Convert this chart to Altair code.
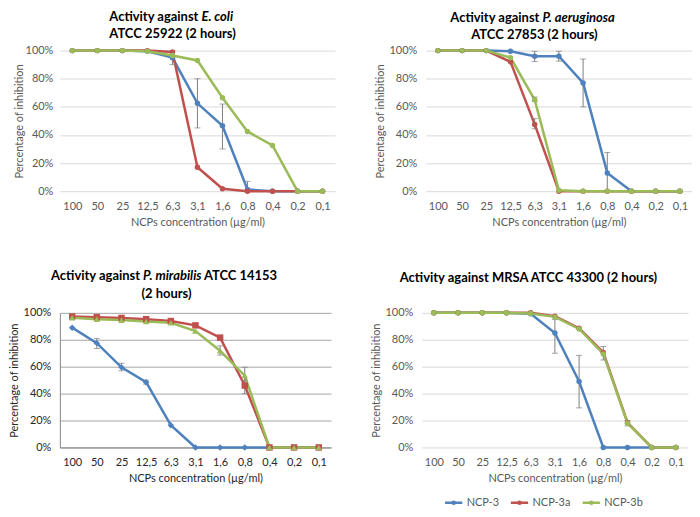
import altair as alt
import pandas as pd

# ---------------- data ----------------
CONC = ["100", "50", "25", "12,5", "6,3", "3,1", "1,6", "0,8", "0,4", "0,2", "0,1"]
SERIES = ["NCP-3", "NCP-3a", "NCP-3b"]
COLORS = ["#4F81BD", "#C0504D", "#9BBB59"]
Y_TICKS = [0, 20, 40, 60, 80, 100]
X_TITLE = "NCPs concentration (µg/ml)"
Y_TITLE = "Percentage of inhibition"

ECOLI_NCP3 = [100, 100, 100, 99.5, 95, 62.5, 46.5, 1.2, 0, 0, 0]
ECOLI_NCP3A = [100, 100, 100, 100, 99, 17, 1.7, 0, 0, 0, 0]
ECOLI_NCP3B = [100, 100, 100, 99.5, 96.5, 93, 66.5, 42.5, 32.5, 0, 0]
ECOLI_ERR = [("6,3", "NCP-3", 90, 100), ("3,1", "NCP-3", 45, 80),
             ("1,6", "NCP-3", 30, 62), ("0,8", "NCP-3", 0, 7)]

PAER_NCP3 = [100, 100, 100, 99.5, 96, 96, 77, 13, 0, 0, 0]
PAER_NCP3A = [100, 100, 100, 92, 47.5, 0, 0, 0, 0, 0, 0]
PAER_NCP3B = [100, 100, 100, 95, 65, 0.7, 0, 0, 0, 0, 0]
PAER_ERR = [("6,3", "NCP-3", 92.3, 99.5), ("3,1", "NCP-3", 92.5, 99.5),
            ("1,6", "NCP-3", 60, 94), ("0,8", "NCP-3", 0, 27.5),
            ("6,3", "NCP-3a", 44.4, 51.6), ("6,3", "NCP-3b", 63.8, 67)]

PMIR_NCP3 = [89, 77.5, 59.5, 48.5, 16.5, 0, 0, 0, 0, 0, 0]
PMIR_NCP3A = [97.3, 96.8, 96.2, 95.3, 93.9, 90.7, 81.6, 46, 0, 0, 0]
PMIR_NCP3B = [96.3, 95.3, 94.6, 93.6, 92.6, 86.5, 71.8, 53.4, 0, 0, 0]
PMIR_ERR = [("50", "NCP-3", 73.5, 81), ("25", "NCP-3", 57, 62.5),
            ("12,5", "NCP-3", 47, 50), ("0,8", "NCP-3a", 40, 50),
            ("1,6", "NCP-3b", 68.6, 75.5), ("0,8", "NCP-3b", 47, 59.6)]

MRSA_NCP3 = [100, 100, 100, 100, 99.3, 85, 49, 0, 0, 0, 0]
MRSA_NCP3A = [100, 100, 100, 100, 100, 97.5, 88.5, 70.5, 18.5, 0, 0]
MRSA_NCP3B = [100, 100, 100, 100, 99.5, 97, 88, 69.5, 18, 0, 0]
MRSA_ERR = [("3,1", "NCP-3", 70, 95), ("1,6", "NCP-3", 29.4, 68.4),
            ("0,8", "NCP-3b", 65, 75), ("0,4", "NCP-3b", 16, 20)]

ECOLI_T1 = ["Activity against", "E. coli"]
ECOLI_T2 = "ATCC 25922 (2 hours)"
PAER_T1 = ["Activity against", "P. aeruginosa"]
PAER_T2 = "ATCC 27853 (2 hours)"
PMIR_T1 = ["Activity against", "P. mirabilis", "ATCC 14153"]
PMIR_T2 = "(2 hours)"
MRSA_T1 = "Activity against MRSA ATCC 43300 (2 hours)"

FONT = "Lato"
ERR_COLOR = "#808080"
LEGEND_SYMBOL = "M-1,0H1M-0.12,0A0.12,0.12,0,1,0,0.12,0A0.12,0.12,0,1,0,-0.12,0Z"


def text_layer(txt, x, y, align, italic=False):
    return alt.Chart(pd.DataFrame({"t": [txt]})).mark_text(
        align=align, baseline="middle", font=FONT, fontSize=13, fontWeight="bold",
        fontStyle="italic" if italic else "normal", color="#000000"
    ).encode(x=alt.value(x), y=alt.value(y), text="t:N")


def panel(vals, errs, width, height, titles, old_style=False, shapes=None,
          lab_pad=10, title_pad=2, legend=None):
    rows = []
    for s, v in zip(SERIES, vals):
        for i, (c, p) in enumerate(zip(CONC, v)):
            rows.append({"conc": c, "i": i, "series": s, "pct": p})
    df = pd.DataFrame(rows)
    edf = pd.DataFrame(errs, columns=["conc", "series", "lo", "hi"])

    label_color = "#262626" if old_style else "#595959"
    grid_color = "#a6a6a6" if old_style else "#d9d9d9"
    xaxis = alt.Axis(title=X_TITLE, labelAngle=0, ticks=False, grid=False,
                     domain=old_style, domainColor="#868686",
                     labelPadding=9, titlePadding=5, labelFontSize=11,
                     labelColor=label_color, titleFontSize=11, titleColor=label_color,
                     titleFontWeight="normal", labelFont=FONT, titleFont=FONT)
    yaxis = alt.Axis(title=Y_TITLE, values=Y_TICKS, labelExpr="datum.value + '%'",
                     grid=True, gridColor=grid_color, domain=old_style,
                     domainColor="#868686", ticks=False,
                     labelPadding=lab_pad, titlePadding=title_pad, labelFontSize=11,
                     labelColor=label_color, titleFontSize=11, titleColor=label_color,
                     titleFontWeight="normal", labelFont=FONT, titleFont=FONT)
    xs = alt.Scale(type="point", domain=CONC, padding=0.5)
    ys = alt.Scale(domain=[0, 100], nice=False)
    X = alt.X("conc:N", scale=xs, sort=CONC, axis=xaxis)
    cscale = alt.Scale(domain=SERIES, range=COLORS)
    if legend is None:
        color = alt.Color("series:N", scale=cscale, legend=None)
    else:
        color = alt.Color("series:N", scale=cscale, legend=legend)

    line = alt.Chart(df).mark_line(strokeWidth=2.5).encode(
        x=X, y=alt.Y("pct:Q", scale=ys, axis=yaxis), color=color, order=alt.Order("i:Q"))
    rule = alt.Chart(edf).mark_rule(color=ERR_COLOR, strokeWidth=1).encode(
        x=X, y=alt.Y("lo:Q", scale=ys, axis=yaxis), y2="hi:Q")
    cap_lo = alt.Chart(edf).mark_tick(color=ERR_COLOR, thickness=1, size=6,
                                      orient="horizontal").encode(
        x=X, y=alt.Y("lo:Q", scale=ys, axis=yaxis))
    cap_hi = alt.Chart(edf).mark_tick(color=ERR_COLOR, thickness=1, size=6,
                                      orient="horizontal").encode(
        x=X, y=alt.Y("hi:Q", scale=ys, axis=yaxis))
    if shapes:
        pts = alt.Chart(df).mark_point(filled=True, size=42, opacity=1).encode(
            x=X, y=alt.Y("pct:Q", scale=ys, axis=yaxis), color=color,
            shape=alt.Shape("series:N", scale=alt.Scale(domain=SERIES, range=shapes),
                            legend=None))
    else:
        pts = alt.Chart(df).mark_circle(size=30, opacity=1).encode(
            x=X, y=alt.Y("pct:Q", scale=ys, axis=yaxis), color=color)
    return alt.layer(line, rule, cap_lo, cap_hi, pts, *titles).properties(
        width=width, height=height)


# titles (positions relative to each plot area)
p1_titles = [text_layer(ECOLI_T1[0], 113 + 26, -34, "right"),
             text_layer(ECOLI_T1[1], 113 + 29, -34, "left", True),
             text_layer(ECOLI_T2, 113, -17, "center")]
p2_titles = [text_layer(PAER_T1[0], 109 + 5, -33, "right"),
             text_layer(PAER_T1[1], 109 + 8, -33, "left", True),
             text_layer(PAER_T2, 109, -16, "center")]
p3_titles = [text_layer(PMIR_T1[0], 107 - 26.5, -37, "right"),
             text_layer(PMIR_T1[1], 107 - 23.5, -37, "left", True),
             text_layer(PMIR_T1[2], 107 + 37.5, -37, "left"),
             text_layer(PMIR_T2, 107, -19, "center")]
p4_titles = [text_layer(MRSA_T1, 107, -35, "center")]

legend4 = alt.Legend(title=None, orient="none", legendX=22, legendY=180,
                     direction="horizontal", symbolType=LEGEND_SYMBOL,
                     symbolSize=300, symbolStrokeWidth=2.5, labelFont=FONT,
                     labelFontSize=11, labelColor="#595959", columnPadding=6,
                     labelOffset=3)

p1 = panel([ECOLI_NCP3, ECOLI_NCP3A, ECOLI_NCP3B], ECOLI_ERR, 276, 141, p1_titles,
           lab_pad=7, title_pad=1)
p2 = panel([PAER_NCP3, PAER_NCP3A, PAER_NCP3B], PAER_ERR, 267, 141, p2_titles,
           lab_pad=9, title_pad=3)
p3 = panel([PMIR_NCP3, PMIR_NCP3A, PMIR_NCP3B], PMIR_ERR, 272, 135, p3_titles,
           old_style=True, shapes=["diamond", "square", "triangle-up"],
           lab_pad=9, title_pad=4)
p4 = panel([MRSA_NCP3, MRSA_NCP3A, MRSA_NCP3B], MRSA_ERR, 267, 135, p4_titles,
           lab_pad=9, title_pad=3, legend=legend4)

top = alt.hconcat(p1, p2, spacing=40).resolve_legend(color="independent")
bottom = alt.hconcat(p3, p4, spacing=40).resolve_legend(color="independent")

chart = alt.vconcat(top, bottom, spacing=43).resolve_legend(
    color="independent"
).properties(
    padding={"top": 2, "left": 0, "right": 0, "bottom": 0}
).configure(font=FONT).configure_view(strokeWidth=0)

chart.save("out.html", embed_options={"renderer": "svg", "actions": False})
